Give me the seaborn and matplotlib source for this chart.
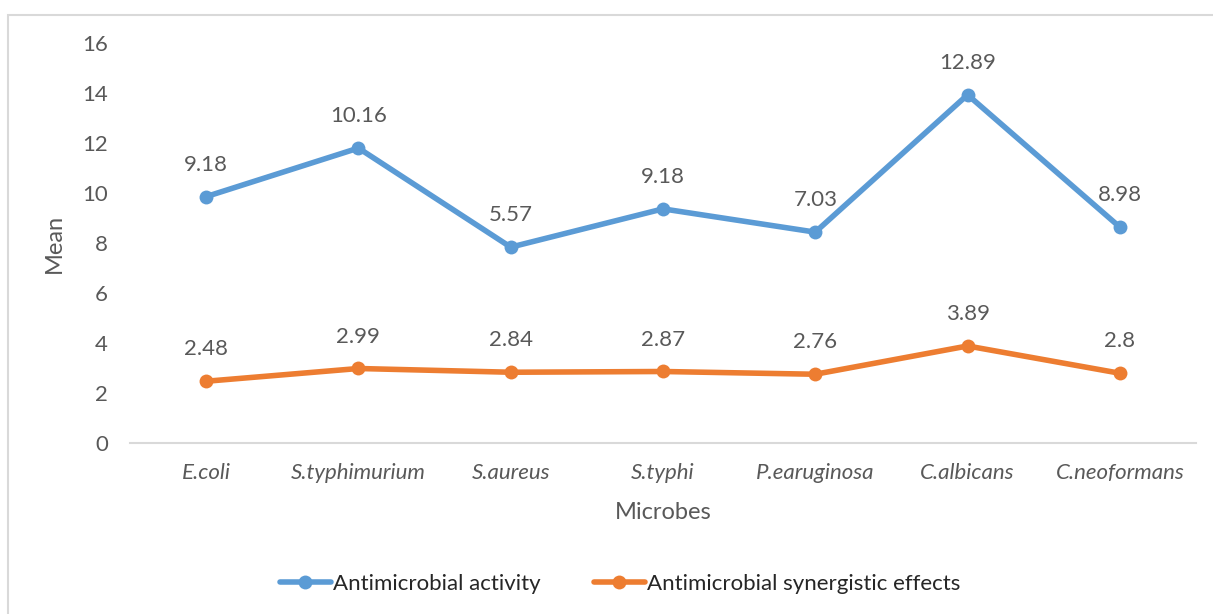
import matplotlib
matplotlib.use('Agg')
import matplotlib.pyplot as plt
import seaborn as sns
import pandas as pd
from matplotlib.patches import Rectangle

sns.set_theme(style='white')
plt.rcParams['font.family'] = ['Lato', 'DejaVu Sans']

# Data
microbes = ['E.coli', 'S.typhimurium', 'S.aureus', 'S.typhi',
            'P.earuginosa', 'C.albicans', 'C.neoformans']
activity = [9.86, 11.80, 7.84, 9.37, 8.44, 13.93, 8.64]
activity_labels = ['9.18', '10.16', '5.57', '9.18', '7.03', '12.89', '8.98']
synergy = [2.48, 2.99, 2.84, 2.87, 2.76, 3.89, 2.80]
synergy_labels = ['2.48', '2.99', '2.84', '2.87', '2.76', '3.89', '2.8']
series_names = ['Antimicrobial activity', 'Antimicrobial synergistic effects']
y_ticks = [0, 2, 4, 6, 8, 10, 12, 14, 16]

df = pd.DataFrame({
    'Microbes': microbes * 2,
    'Mean': activity + synergy,
    'series': [series_names[0]] * len(microbes) + [series_names[1]] * len(microbes),
})

text_col = '#595959'
palette = {series_names[0]: '#5B9BD5', series_names[1]: '#ED7D31'}

fig = plt.figure(figsize=(12.13, 6.14), dpi=100)
# outer chart border
fig.patches.append(Rectangle((8 / 1213, -0.1), 1.2, 1 - 15 / 614 + 0.1,
                             transform=fig.transFigure, fill=False,
                             edgecolor='#D9D9D9', linewidth=1.5))
ax = fig.add_axes([130 / 1213, 1 - 443.3 / 614, 1066 / 1213, 400.3 / 614])

sns.lineplot(data=df, x='Microbes', y='Mean', hue='series', palette=palette,
             marker='o', markersize=10, markeredgewidth=0, linewidth=4,
             sort=False, ax=ax)

for i, (v, lab) in enumerate(zip(activity, activity_labels)):
    ax.annotate(lab, (i, v), xytext=(0, 23), textcoords='offset points',
                ha='center', va='center', fontsize=16, color=text_col)
for i, (v, lab) in enumerate(zip(synergy, synergy_labels)):
    ax.annotate(lab, (i, v), xytext=(0, 23), textcoords='offset points',
                ha='center', va='center', fontsize=16, color=text_col)

ax.set_xlim(-0.5, len(microbes) - 0.5)
ax.set_ylim(0, 16)
ax.set_yticks(y_ticks)
ax.tick_params(axis='y', labelsize=16, labelcolor=text_col, length=0, pad=16)
ax.tick_params(axis='x', labelsize=16, labelcolor=text_col, length=0, pad=14)
for t in ax.get_xticklabels():
    t.set_fontstyle('italic')
ax.set_xlabel('Microbes', fontsize=17, color=text_col, labelpad=14)
ax.set_ylabel('Mean', fontsize=17, color=text_col, labelpad=12)

for s in ['top', 'right', 'left']:
    ax.spines[s].set_visible(False)
ax.spines['bottom'].set_color('#D9D9D9')
ax.spines['bottom'].set_linewidth(1.5)
ax.grid(False)

handles, labels = ax.get_legend_handles_labels()
ax.legend(handles, labels, loc='center', bbox_to_anchor=(620 / 1213, 1 - 584 / 614),
          bbox_transform=fig.transFigure, ncol=2, frameon=False, fontsize=16,
          labelcolor='#262626', handlelength=2.3, handletextpad=0.1, columnspacing=2.4)

fig.savefig('out.png', dpi=100)
